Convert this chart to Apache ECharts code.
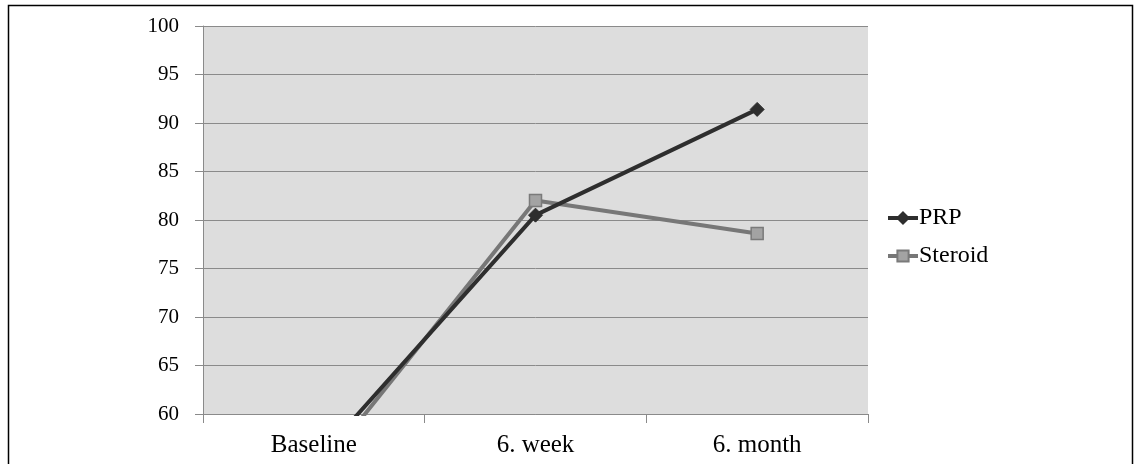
<!DOCTYPE html>
<html>
<head>
<meta charset="utf-8">
<script src="https://cdn.jsdelivr.net/npm/echarts@6/dist/echarts.min.js"></script>
<style>
html,body{margin:0;padding:0;background:#fff;}
#chart{width:1134px;height:464px;}
</style>
</head>
<body>
<div id="chart"></div>
<script>
var categories = ['Baseline', '6. week', '6. month'];
var prpValues = [54.9, 80.5, 91.4];
var steroidValues = [53.4, 82.0, 78.6];
var yTicks = { min: 60, max: 100, interval: 5 };

var font = '"Liberation Serif", "DejaVu Serif", serif';
var chart = echarts.init(document.getElementById('chart'), null, { renderer: 'canvas' });
chart.setOption({
  animation: false,
  backgroundColor: '#ffffff',
  textStyle: { fontFamily: font, color: '#000' },
  grid: {
    left: 203, top: 26, right: 266, bottom: 50,
    show: true, backgroundColor: '#dddddd', borderWidth: 0
  },
  legend: {
    orient: 'vertical',
    left: 881, top: 201,
    itemWidth: 30, itemHeight: 14, itemGap: 14,
    lineStyle: { width: 4 },
    textStyle: { fontFamily: font, fontSize: 24, color: '#000', padding: [0, 0, 0, -4] },
    data: ['PRP', 'Steroid']
  },
  xAxis: {
    type: 'category',
    data: categories,
    boundaryGap: true,
    axisLine: { show: true, lineStyle: { color: '#8a8a8a', width: 1 } },
    axisTick: { show: true, length: 9, alignWithLabel: false, lineStyle: { color: '#8a8a8a' } },
    axisLabel: { fontFamily: font, fontSize: 25, color: '#000', margin: 19 },
    splitLine: { show: false }
  },
  yAxis: {
    type: 'value',
    min: yTicks.min, max: yTicks.max, interval: yTicks.interval,
    axisLine: { show: true, lineStyle: { color: '#8a8a8a', width: 1 } },
    axisTick: { show: true, length: 8, inside: false, lineStyle: { color: '#8a8a8a' } },
    axisLabel: { fontFamily: font, fontSize: 21, color: '#000', margin: 24 },
    splitLine: { show: true, lineStyle: { color: '#8a8a8a', width: 1 } }
  },
  series: [
    {
      name: 'PRP', type: 'line', data: prpValues, clip: true,
      symbol: 'diamond', symbolSize: 14, showSymbol: true,
      lineStyle: { color: '#2e2e2e', width: 4 },
      itemStyle: { color: '#2e2e2e', borderColor: '#2e2e2e', borderWidth: 1 },
      z: 3
    },
    {
      name: 'Steroid', type: 'line', data: steroidValues, clip: true,
      symbol: 'rect', symbolSize: 12, showSymbol: true,
      lineStyle: { color: '#777777', width: 4 },
      itemStyle: { color: '#a3a3a3', borderColor: '#7a7a7a', borderWidth: 1.5 },
      z: 2
    }
  ],
  graphic: [
    {
      type: 'rect', silent: true, z: 100,
      shape: { x: 8.5, y: 5.5, width: 1124, height: 480 },
      style: { fill: 'none', stroke: '#000', lineWidth: 1.5 }
    }
  ]
});
</script>
</body>
</html>
